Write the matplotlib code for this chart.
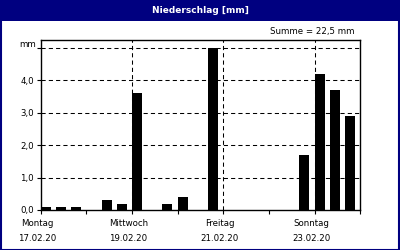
import matplotlib
matplotlib.use("Agg")
import matplotlib.pyplot as plt
from matplotlib.patches import Rectangle

# Data: 8-hour bins over 7 days (Montag 17.02.20 .. Sonntag 23.02.20)
values = [0.1, 0.1, 0.1,
          0.0, 0.3, 0.2,
          3.6, 0.0, 0.2,
          0.4, 0.0, 5.0,
          0.0, 0.0, 0.0,
          0.0, 0.0, 1.7,
          4.2, 3.7, 2.9]
day_labels = ["Montag", "Mittwoch", "Freitag", "Sonntag"]
date_labels = ["17.02.20", "19.02.20", "21.02.20", "23.02.20"]
label_days = [0, 2, 4, 6]
ytick_vals = [0, 1, 2, 3, 4]
ytick_labels = ["0,0", "1,0", "2,0", "3,0", "4,0"]
title = "Niederschlag [mm]"
summe = "Summe = 22,5 mm"

NAVY = "#000080"
W, H = 400, 250
FS = 6.2
fig = plt.figure(figsize=(4, 2.5), dpi=100)
fig.patch.set_facecolor("white")

# title bar and border
fig.patches.append(Rectangle((0, 1 - 20.7 / H), 1, 20.7 / H, transform=fig.transFigure,
                             facecolor=NAVY, edgecolor="none", zorder=0))
fig.patches.append(Rectangle((0.5 / W, 0.5 / H), 1 - 1.5 / W, 1 - 1.5 / H, transform=fig.transFigure,
                             facecolor="none", edgecolor=NAVY, linewidth=1.5, zorder=5))
fig.text(0.5, 1 - 10.3 / H, title, color="white", fontsize=6.5, fontweight="bold",
         ha="center", va="center", family="DejaVu Sans")

ax = fig.add_axes([40.7 / W, 40 / H, 319.6 / W, 170 / H])
xs = [i / 3 for i in range(len(values))]
ax.bar(xs, values, width=0.219, align="edge", color="black", zorder=3)
ax.set_xlim(0, 7)
ax.set_ylim(0, 5.25)

# gridlines
for y in [1, 2, 3, 4, 5]:
    ax.axhline(y, color="black", lw=0.75, ls=(0, (4, 3)), zorder=1)
for x in [2, 4, 6]:
    ax.axvline(x, color="black", lw=0.75, ls=(0, (4, 3)), zorder=4)

for s in ax.spines.values():
    s.set_linewidth(1.0)
    s.set_color("black")

ax.set_yticks(ytick_vals + [5])
ax.set_yticklabels(ytick_labels + [""], fontsize=FS)
ax.set_xticks(range(0, 8))
ax.set_xticklabels([])
ax.tick_params(axis="both", direction="out", length=3, width=0.8, color="black", pad=2)

for d, dl, dt in zip(label_days, day_labels, date_labels):
    xf = (40.7 + d * 45.66 - 3.5) / W
    fig.text(xf, 1 - 224 / H, dl, fontsize=FS, ha="center", va="center")
    fig.text(xf, 1 - 238.5 / H, dt, fontsize=FS, ha="center", va="center")

fig.text(36 / W, 1 - 45 / H, "mm", fontsize=FS, ha="right", va="center")
fig.text(354 / W, 1 - 31.5 / H, summe, fontsize=FS, ha="right", va="center")

fig.savefig("out.png", dpi=100)
